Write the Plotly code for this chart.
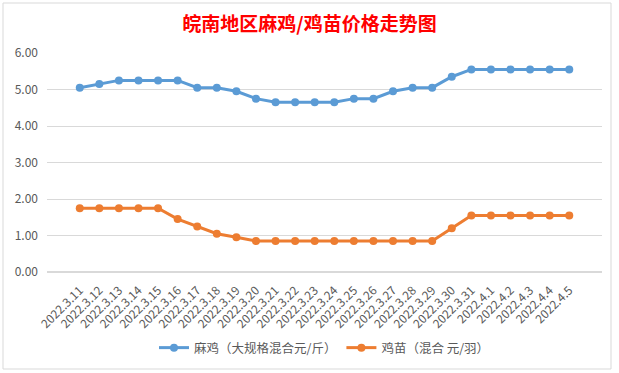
import plotly.graph_objects as go

dates = ["2022.3.11", "2022.3.12", "2022.3.13", "2022.3.14", "2022.3.15", "2022.3.16",
         "2022.3.17", "2022.3.18", "2022.3.19", "2022.3.20", "2022.3.21", "2022.3.22",
         "2022.3.23", "2022.3.24", "2022.3.25", "2022.3.26", "2022.3.27", "2022.3.28",
         "2022.3.29", "2022.3.30", "2022.3.31", "2022.4.1", "2022.4.2", "2022.4.3",
         "2022.4.4", "2022.4.5"]
maji = [5.05, 5.15, 5.25, 5.25, 5.25, 5.25, 5.05, 5.05, 4.95, 4.75, 4.65, 4.65, 4.65,
        4.65, 4.75, 4.75, 4.95, 5.05, 5.05, 5.35, 5.55, 5.55, 5.55, 5.55, 5.55, 5.55]
jimiao = [1.75, 1.75, 1.75, 1.75, 1.75, 1.45, 1.25, 1.05, 0.95, 0.85, 0.85, 0.85, 0.85,
          0.85, 0.85, 0.85, 0.85, 0.85, 0.85, 1.2, 1.55, 1.55, 1.55, 1.55, 1.55, 1.55]
y_ticks = [0, 1, 2, 3, 4, 5, 6]

fig = go.Figure()
fig.add_trace(go.Scatter(x=dates, y=maji, mode="lines+markers", name="麻鸡（大规格混合元/斤）",
                         line=dict(color="#5B9BD5", width=3), marker=dict(size=8, color="#5B9BD5")))
fig.add_trace(go.Scatter(x=dates, y=jimiao, mode="lines+markers", name="鸡苗（混合 元/羽）",
                         line=dict(color="#ED7D31", width=3), marker=dict(size=8, color="#ED7D31")))

font_main = "Noto Sans CJK SC, Microsoft YaHei, sans-serif"
fig.update_layout(
    width=619, height=373,
    margin=dict(l=47, r=17, t=53, b=101, autoexpand=False),
    paper_bgcolor="white", plot_bgcolor="white",
    title=dict(text="<b>皖南地区麻鸡/鸡苗价格走势图</b>", x=0.5, xanchor="center",
               y=1 - 24 / 373, yref="container", yanchor="middle",
               font=dict(family=font_main, size=19, color="#FF0000")),
    font=dict(family=font_main, size=11, color="#595959"),
    xaxis=dict(type="category", tickangle=-45, showgrid=False, showline=False, ticks="",
               automargin=False, ticklabelstandoff=8,
               tickfont=dict(size=12, color="#595959")),
    yaxis=dict(range=[0, 6], tickvals=y_ticks, tickformat=".2f", showgrid=True,
               gridcolor="#D9D9D9", gridwidth=1, zeroline=True, zerolinecolor="#D9D9D9",
               showline=False, ticks="", ticklabelstandoff=8, automargin=False,
               tickfont=dict(size=12, color="#595959")),
    legend=dict(orientation="h", x=0.5, xanchor="center", y=1 - 348 / 373,
                yref="container", yanchor="middle",
                font=dict(size=12.5, color="#595959")),
    showlegend=True,
)
# chart border
fig.add_shape(type="rect", xref="paper", yref="paper", x0=-44/555, x1=1+9/555,
              y0=-97/219, y1=1+50/219, line=dict(color="#D9D9D9", width=1))
fig.write_html("out.html", config={"displayModeBar": False},
               post_script="document.body.style.margin='0';")
